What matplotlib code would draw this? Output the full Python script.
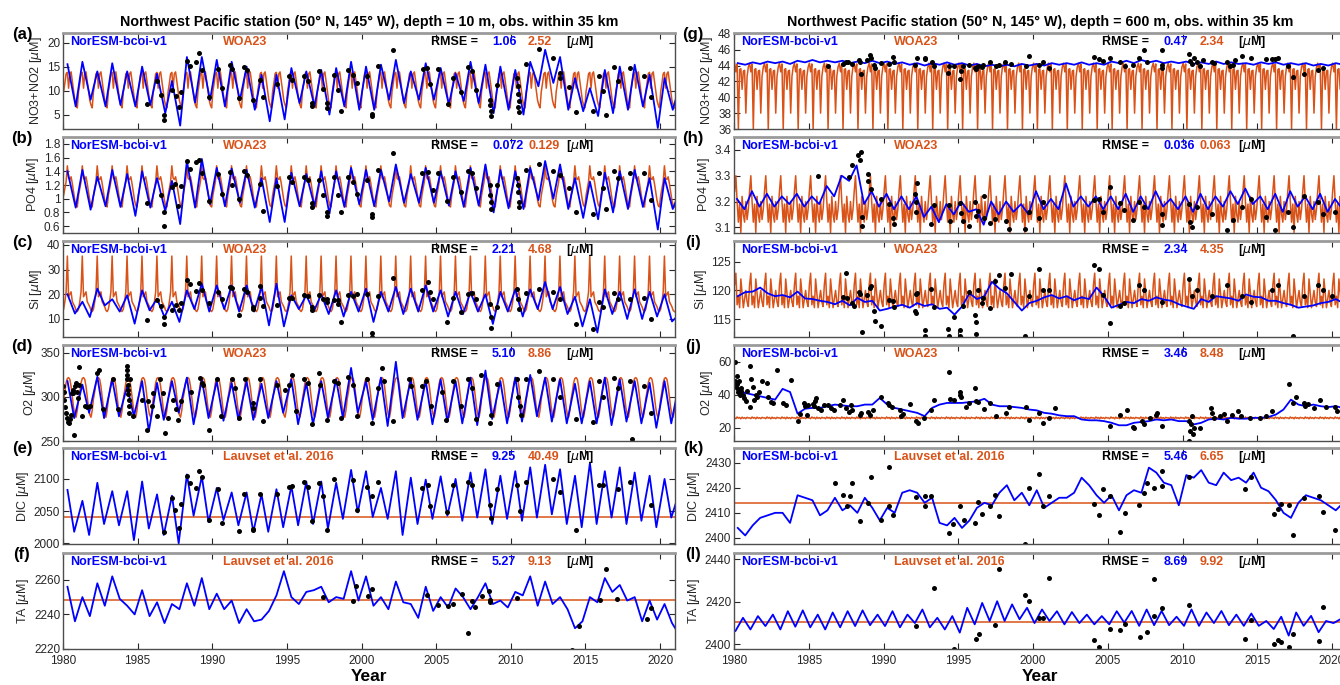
import numpy as np
import matplotlib.pyplot as plt
from matplotlib.ticker import FormatStrFormatter

plt.rcParams['font.family'] = ['Liberation Sans', 'DejaVu Sans']
plt.rcParams['mathtext.fontset'] = 'dejavusans'

BLUE = '#0000ff'
ORANGE = '#d95319'

# ---------------- model (NorESM) : two samples per year, 1980..2021 ----------------
# left column, 10 m
a_hi = [15.5,16,14,15.7,14,15,13.5,12,17,17,16.4,16,15,13.3,13.3,14.7,14,14.3,14.7,16,15,15.4,16.4,14,15.7,14.7,13.6,16,15.4,15,14.3,16,18.5,17,12.6,10.5,14.3,15,15.4,13.3,12.6,10.9]
a_lo = [6.7,8.1,6.7,7,6.7,7,5.3,2.7,7.5,8,6.7,8,6,3.6,4,7.4,6.7,5,6.7,6,6,8.1,7.4,8.1,8.1,7.1,7.8,7.4,5.3,6,5,10.9,11.6,6,5.7,4.7,5.3,6,6.7,2.2,6]
b_hi = [1.40,1.42,1.32,1.42,1.36,1.40,1.30,1.26,1.55,1.58,1.45,1.44,1.42,1.30,1.30,1.38,1.36,1.40,1.40,1.45,1.42,1.42,1.50,1.36,1.45,1.40,
        1.40,1.45,1.50,1.42,1.40,1.45,1.55,1.50,1.30,1.25,1.38,1.40,1.42,1.30,1.30,1.10]
b_lo = [0.87,0.84,0.89,0.88,0.75,0.87,0.82,0.63,0.87,0.92,0.89,0.94,0.87,0.66,0.66,0.89,0.89,0.78,0.88,0.92,0.89,0.96,0.94,0.94,0.94,0.90,
        0.88,0.90,0.80,0.86,0.85,0.98,1.00,0.85,0.72,0.70,0.80,0.85,0.88,0.55,0.85]
c_hi = [20,17,22.3,18,19.6,21.6,18.2,17,21.6,24.3,23.6,23.6,23.6,23,24.3,19.6,19.6,20,21.6,21,22.3,21,23,22.3,23.6,21.6,
        21,21,20,21,22,22,25,23,19,18,22,21,22,21,20,12]
c_lo = [12.2,10.8,15.5,13,8.1,13.5,10.8,8.8,14,13,14,13,13,7.4,7,14,13,12,11,13,8.8,13,12,13,13,11,
        12,13,8,13,11,14,14,12,7,4.5,12,10,10,11,9]
d_hi = [318,314,323,320,312,318,316,318,322,320,318,316,318,315,318,320,316,318,320,333,318,322,340,320,318,320,318,322,330,318,322,325,322,320,315,318,322,320,318,316,318,318]
d_lo = [276,282,276,278,278,261,274,282,269,276,273,274,274,276,282,269,269,276,276,282,274,267,276,274,269,272,270,268,275,270,272,278,272,270,270,270,268,272,270,265,270]
e_hi = [2083,2066,2094,2081,2081,2096,2076,2074,2107,2104,2086,2079,2079,2076,2084,2089,2096,2096,2094,2114,2112,2086,2112,2102,2099,2104,
        2100,2110,2115,2105,2112,2118,2122,2115,2105,2125,2112,2118,2110,2105,2100,2080]
e_lo = [2018,2013,2030,2028,2005,2023,2013,2000,2043,2033,2036,2028,2018,2018,2025,2028,2030,2023,2038,2048,2041,2038,2013,2030,2038,2043,
        2035,2040,2030,2038,2035,2040,2045,2030,2025,2030,2040,2030,2035,2025,2040]
f_hi = [2256,2250,2258,2262,2245,2254,2247,2246,2258,2261,2252,2248,2243,2237,2251,2250,2253,2256,2250,2265,2262,2250,2259,2246,2256,2250,
        2255,2243,2258,2248,2253,2262,2259,2250,2232,2250,2261,2257,2250,2248,2246,2228]
f_lo = [2236,2239,2245,2249,2240,2239,2235,2243,2245,2243,2243,2235,2236,2242,2265,2246,2254,2247,2249,2248,2245,2243,2247,2238,2242,2244,
        2250,2250,2246,2244,2251,2245,2246,2243,2236,2247,2253,2248,2236,2237,2235]

# right column, 600 m
g_hi = [44.3,44.4,44.5,44.5,44.6,44.7,44.6,44.6,44.5,44.6,44.5,44.4,44.3,44.3,44.4,44.3,44.2,44.1,44.1,44.2,44.2,44.3,44.3,44.4,44.3,44.5,
        44.6,44.7,44.6,44.5,44.5,44.4,44.5,44.4,44.3,44.4,44.4,44.3,44.3,44.2,44.3,44.3]
g_lo = [44.1,44.2,44.3,44.2,44.4,44.4,44.4,44.3,44.3,44.3,44.2,44.1,44.0,44.1,44.1,44.0,43.9,43.9,43.9,44.0,44.0,44.1,44.1,44.1,44.1,44.3,
        44.3,44.4,44.3,44.3,44.2,44.2,44.2,44.2,44.1,44.2,44.1,44.1,44.0,44.0,44.1]
h_hi = [3.21,3.24,3.23,3.22,3.23,3.22,3.26,3.30,3.34,3.24,3.23,3.22,3.22,3.18,3.19,3.20,3.17,3.20,3.20,3.19,3.24,3.21,3.27,3.22,3.22,3.22,
        3.23,3.22,3.24,3.21,3.22,3.23,3.22,3.24,3.25,3.22,3.23,3.24,3.22,3.23,3.21,3.20]
h_lo = [3.17,3.18,3.18,3.19,3.18,3.19,3.22,3.28,3.19,3.18,3.17,3.17,3.14,3.12,3.15,3.16,3.11,3.15,3.16,3.15,3.17,3.17,3.18,3.18,3.17,3.17,
        3.16,3.17,3.18,3.17,3.16,3.17,3.18,3.19,3.19,3.17,3.16,3.18,3.17,3.16,3.17]
i_hi = [119,119.8,119.5,119.2,119.8,118.5,118,118.2,118.7,118.2,116.8,117.5,117.8,117.6,117,117.2,118.5,121.5,119.5,116.5,118.2,119.2,119,118.8,120.5,117,
        118,118.5,118.8,118.2,117.2,118.5,119,118.6,119.3,118.8,118.2,117.5,117.2,117.8,118.5,118.5]
i_lo = [119.7,120.5,119,118.8,118.6,118.2,117.6,117.4,118,116.5,117.2,117,117.3,116.8,115.8,119.5,119,120.3,118,117.8,118.8,118.6,118.3,118.5,119,117.5,
        117.8,118.2,118.4,117.6,116.8,118,118.8,118.2,118.9,118.2,117.8,117,117.4,118,117.8]
j_hi = [43,40,38,43.5,28.5,32,33,33.5,33,34,34,31,29,32,35,35,36,34,33,32,30.5,28.5,27,25,24.5,23,21.5,23.5,25,25,24,23,25.5,26,25.5,26,28,37,33,33,33,30]
j_lo = [41,39,37,41.6,31.5,32,34,33,34,38,32,30,27,34,35,35.5,37.5,33,32.5,31,29,27.5,27,24.5,24,21.5,23,24,24.5,24,22,25,25,25.5,26,26.5,31,34,34,32.5,32]
k_hi = [2404,2405,2409,2410,2417,2415,2411,2411,2410,2412,2412,2418,2418,2416,2405,2404,2412,2413,2421,2418,2419,2414,2416,2424,2417,2417,
        2417,2418,2426,2421,2425,2427,2421,2423,2422,2420,2415,2408,2417,2415,2411,2413]
k_lo = [2401,2408,2410,2406,2416,2409,2416,2413,2416,2407,2410,2419,2414,2406,2408,2407,2414,2418,2415,2413,2412,2416,2418,2421,2414,2411,
        2419,2428,2422,2413,2424,2422,2426,2424,2426,2418.6,2410,2414,2416,2413,2414]
l_lo = [2406.3,2407,2408.6,2407,2408.3,2408,2407,2408,2408.6,2409,2408.6,2408,2410,2408,2407,2405.5,2409.4,2411,2411,2411.8,2410,2411,2409.4,2410,2409.4,2409.4,
        2410.2,2408.7,2409,2409,2408.7,2408.7,2410,2409,2408.7,2408.7,2407.2,2404.1,2408.7,2405.7,2410,2411]
l_hi = [2412.5,2413.3,2414,2415.6,2416,2414,2415,2415.6,2416,2414,2415.6,2414,2416.4,2412.5,2413.3,2417.2,2419.5,2420.3,2418.8,2417.2,2416.4,2415.6,2415.2,2414,2413.3,2415.6,
        2415.7,2416.4,2415.7,2413,2416.4,2415,2415.7,2414,2414.5,2411,2413,2415,2413.4,2411,2412]

# ---------------- WOA23 monthly climatology (Jan..Dec) ----------------
a_woa = [9.8,11.5,13.5,13.8,10.5,13.5,13.9,12.0,10.0,8.0,7.0,6.4]
b_woa = [1.05,1.15,1.25,1.48,1.30,1.28,1.32,1.22,1.10,0.98,0.90,0.88]
c_woa = [14,17,21,35.5,19,20,21,17,16,15,13.5,13]
d_woa = [298,306,316,321,322,320,312,300,288,280,277,285]
g_woa = [44.3,43.2,44.2,36.0,43.5,43.6,41.0,43.3,43.4,38.0,42.6,43.8]
h_woa = [3.24,3.30,3.20,3.12,3.19,3.08,3.22,3.15,3.12,3.20,3.13,3.17]
i_woa = [121,123,117.5,119,117,122,119.5,117,118.5,120,118,117.2]
j_woa = [26,25.5,26.5,25.8,26.2,25.4,26.4,25.7,26.1,25.5,26.3,25.9]

# Lauvset et al. 2016 (single value)
e_ref = 2040.5
f_ref = 2248.5
k_ref = 2414.0
l_ref = 2410.5

# ---------------- observations within 35 km ----------------
a_obs_t = [1985.66,1986.27,1986.56,1986.78,1986.78,1987.27,1987.54,1987.76,1987.9,1988.34,1988.5,1988.94,1989.12,1989.32,1989.77,1990.39,1990.66,
           1991.17,1991.33,1991.8,1992.13,1992.3,1992.74,1993.2,1993.4,1994.36,1995.14,1995.36,1996.14,1996.4,1996.65,1996.65,1997.17,1997.41,
           1997.7,1997.7,1998.15,1998.44,1998.64,1999.08,1999.42,1999.71,2000.38,2000.69,2000.69,2001.09,2002.09,2004.1,2004.4,2004.62,2005.15,
           2005.78,2006.12,2006.67,2007.12,2007.41,2007.64,2008.6,2008.62,2008.65,2008.68,2009.08,2010.4,2010.45,2010.5,2010.55,2010.5,2010.55,
           2011.0,2011.9,2012.8,2013.3,2013.3,2013.9,2014.4,2015.5,2015.9,2016.2,2016.4,2016.9,2017.2,2018.0,2018.9,2019.4]
a_obs_v = [7.3,12.1,9.1,5.0,3.8,10.2,8.8,6.6,9.8,16.2,15.2,15.9,17.8,14.2,8.6,14.5,10.5,
           15.4,14.5,8.5,15,14.3,8.1,12.3,8.7,11.4,13,12.3,13.1,12.1,6.7,7.4,14,10.3,
           7.4,6.4,13.3,10.2,5.7,14.3,13.3,11.6,13.1,5.2,4.8,15.2,18.5,14.5,14.7,11.4,14.5,
           7.3,12.7,9.8,15,14,10.2,8.1,6.9,5.8,4.8,11.2,12.7,11,9.3,7.9,6.6,5.5,
           15.5,18.6,16.8,13.6,12.6,10.7,5.6,5.7,13.1,10,5.0,14.9,12.1,14.8,13.1,8.7]
b_obs_t = [1985.66,1986.55,1986.78,1986.78,1987.27,1987.5,1987.7,1987.9,1988.34,1988.5,1988.94,1989.12,1989.32,1989.77,1990.39,1990.66,1991.17,
           1991.33,1991.8,1992.13,1992.3,1993.2,1993.4,1994.36,1995.14,1995.36,1996.14,1996.4,1996.65,1996.65,1997.17,1997.41,1997.7,1997.7,
           1998.15,1998.44,1998.64,1999.08,1999.42,1999.71,2000.38,2000.69,2000.69,2001.09,2002.09,2004.05,2004.43,2004.77,2005.15,2005.73,
           2006.12,2006.67,2007.12,2007.41,2007.64,2008.6,2008.62,2008.65,2008.68,2009.08,2010.4,2010.45,2010.5,2010.55,2010.55,2011.0,2011.9,
           2012.8,2013.3,2013.9,2014.4,2015.5,2015.9,2016.2,2016.4,2016.9,2017.2,2018.0,2018.9,2019.4]
b_obs_v = [0.94,1.06,0.80,0.60,1.17,1.21,0.89,1.18,1.55,1.43,1.53,1.56,1.38,0.96,1.36,1.07,1.39,
           1.20,1.00,1.41,1.34,1.22,0.82,1.19,1.32,1.25,1.32,1.27,0.94,0.88,1.27,1.06,0.80,0.75,
           1.32,1.06,0.80,1.32,1.25,1.07,1.27,0.77,0.74,1.42,1.66,1.37,1.39,1.13,1.38,0.96,
           1.32,1.10,1.40,1.38,1.15,1.20,1.05,0.95,0.85,1.20,1.30,1.20,1.10,0.95,0.88,1.42,1.50,
           1.40,1.35,1.15,0.80,0.78,1.38,1.15,0.85,1.40,1.30,1.38,1.38,0.98]
c_obs_t = [1985.66,1986.27,1986.55,1986.78,1986.78,1987.27,1987.54,1987.76,1987.9,1988.34,1988.5,1988.94,1989.12,1989.32,1989.77,1990.4,1990.66,
           1991.17,1991.33,1991.8,1992.13,1992.3,1992.74,1992.74,1993.2,1993.22,1993.4,1994.36,1995.14,1995.36,1996.14,1996.4,1996.65,1996.65,
           1997.17,1997.41,1997.7,1997.7,1998.15,1998.44,1998.44,1998.64,1999.08,1999.42,1999.71,2000.38,2000.69,2000.69,2001.09,2002.09,
           2004.05,2004.43,2004.6,2004.77,2005.73,2006.12,2006.67,2007.12,2007.41,2007.64,2008.6,2008.65,2008.7,2009.08,2010.4,2010.5,2010.55,
           2011.0,2011.9,2012.8,2013.3,2014.4,2015.5,2015.9,2016.2,2016.9,2017.2,2018.0,2018.9,2019.4]
c_obs_v = [9.5,17.8,15.1,10.8,8.1,13.8,15.5,13.5,16.5,25.7,24,21.4,24.6,21.6,16.5,21,18.2,
           23,22.7,11.5,22.3,21,14.9,14,23.2,18.6,15.3,15.5,18.6,18.6,19.6,19.2,14.9,13.8,
           19.6,18.2,18.2,16.9,17.6,17.6,16.2,8.8,19.6,19.2,20.3,20.3,4.3,2.7,19.3,26.8,
           21.9,25,21,18.2,8.8,18.5,13,20,20.5,18,16,11,6.5,15,22,18,14,
           20.5,22,21,18,8,6,17,15,20.5,18,18,18.5,10]
d_obs_t = [1980.0,1980.04,1980.1,1980.15,1980.2,1980.26,1980.33,1980.4,1980.45,1980.52,1980.58,1980.65,1980.7,1980.74,1980.78,1980.85,1980.92,
           1980.98,1981.05,1981.1,1981.3,1981.45,1981.6,1981.8,1982.25,1982.4,1982.7,1983.37,1983.7,1984.26,1984.28,1984.3,1984.32,1984.34,
           1984.36,1984.38,1984.4,1984.42,1984.45,1984.52,1984.7,1985.26,1985.6,1985.7,1985.93,1986.05,1986.27,1986.5,1986.7,1986.8,1987.05,
           1987.4,1987.6,1987.7,1987.9,1988.6,1989.16,1989.3,1989.4,1989.8,1990.3,1990.6,1991.3,1991.5,1991.8,1992.2,1992.7,1992.74,1993.2,
           1993.4,1994.36,1994.85,1995.14,1995.36,1995.6,1996.14,1996.4,1996.65,1997.15,1997.2,1997.7,1998.15,1998.44,1998.64,1999.08,1999.42,
           1999.71,2000.38,2000.69,2001.09,2001.4,2001.5,2002.09,2003.2,2003.3,2004.05,2004.3,2004.66,2005.4,2005.66,2006.12,2006.67,2007.12,
           2007.41,2007.7,2008.0,2008.6,2008.7,2009.08,2010.4,2010.5,2010.6,2010.7,2011.0,2011.9,2012.8,2013.3,2014.4,2015.5,2015.9,2016.2,
           2016.9,2017.2,2018.0,2018.1,2018.9,2019.4]
d_obs_v = [312,306,297,289,282,276,272,271,275,280,304,308,304,257,312,316,306,
           299,314,334,278,290,289,290,327,331,286,320,286,335,331,325,320,314,
           308,303,297,290,282,320,278,297,263,295,290,304,278,320,304,259,276,
           297,286,274,295,306,321,316,314,263,320,278,320,310,276,320,293,288,320,
           273,314,308,314,325,284,320,316,269,327,314,274,318,316,276,323,314,
           278,320,271,310,333,318,273,320,312,312,318,290,306,274,318,290,320,
           310,275,325,270,280,315,320,300,290,280,320,330,320,300,275,272,318,300,
           322,310,318,252,312,282]
e_obs_t = [1986.78,1987.27,1987.5,1987.76,1987.9,1988.34,1988.5,1988.94,1989.12,1989.32,1989.77,1990.4,1990.66,1991.8,1992.13,1992.74,1992.76,
           1993.2,1994.36,1995.14,1995.36,1996.14,1996.4,1996.65,1997.17,1997.41,1997.7,1998.15,1999.42,1999.71,2000.38,2000.69,2001.09,2004.05,
           2004.43,2004.6,2005.73,2006.12,2007.12,2007.41,2008.6,2008.65,2009.08,2010.4,2010.6,2011.0,2012.8,2013.3,2014.4,2015.9,2016.2,
           2017.2,2018.0,2019.4]
e_obs_v = [2017,2070,2051,2024,2061,2105,2094,2086,2113,2103,2037,2084,2032,2019,2076,2023,2020,
           2076,2076,2088,2089,2095,2088,2034,2094,2073,2020,2100,2098,2052,2088,2073,2096,2086,
           2091,2058,2048,2090,2095,2090,2060,2040,2085,2090,2050,2095,2100,2080,2020,2090,2090,
           2085,2095,2060]
f_obs_t = [1997.4,1999.42,1999.64,2000.4,2000.7,2004.4,2005.1,2005.8,2006.1,2006.7,2007.1,2007.4,2007.6,2008.07,2008.56,2008.6,2008.62,
           2010.4,2014.1,2014.6,2016.0,2016.4,2017.1,2019.1,2019.4]
f_obs_v = [2250,2248,2256.5,2250.8,2254.8,2251.3,2245.6,2244.6,2246,2251.7,2229,2248,2244.2,2250.4,2253.8,2248.5,2246.9,
           2249.4,2219.6,2233.5,2248.5,2266,2248.8,2237.5,2243.7]
g_obs_t = [1986.3,1987.27,1987.5,1987.6,1987.9,1988.36,1988.4,1988.5,1988.9,1989.1,1989.15,1989.35,1989.4,1989.85,1990.4,1990.66,1990.7,
           1992.1,1992.26,1992.78,1992.8,1993.27,1993.4,1994.34,1994.36,1994.7,1995.1,1995.2,1995.3,1995.7,1996.1,1996.2,1996.35,1996.6,1996.65,
           1997.1,1997.5,1997.7,1998.1,1998.5,1999.5,1999.7,2000.4,2000.7,2001.1,2004.1,2004.4,2004.7,2005.15,2005.8,2006.15,2006.7,2007.1,
           2007.4,2007.6,2008.6,2008.62,2008.65,2010.4,2010.5,2010.6,2010.8,2011.0,2011.2,2011.4,2012.0,2012.1,2013.0,2013.2,2013.4,2013.5,
           2014.0,2014.6,2015.6,2016.0,2016.2,2016.4,2017.05,2017.4,2018.1,2019.05,2019.4]
g_obs_v = [43.9,44.2,44.5,44.4,44.2,44.7,44.5,42.9,44.7,45.3,44.9,44.1,43.7,44.3,44.2,45.1,44.4,
           44.1,44.9,45.0,44.8,44.4,43.9,43.1,43.9,43.9,42.3,43.3,43.9,44.1,43.7,43.6,43.9,43.8,44.1,
           44.5,44.0,44.1,44.4,44.2,44.0,45.2,44.1,44.5,43.7,45.1,44.8,44.6,44.9,44.4,43.9,44.1,44.9,
           45.9,44.4,46.0,44.1,43.7,45.5,44.6,44.2,44.9,44.4,44.0,44.7,44.5,44.3,44.4,43.9,44.1,44.7,
           45.2,45.0,44.8,44.8,44.8,45.0,43.9,42.5,42.9,43.4,43.7]
h_obs_t = [1985.64,1987.7,1987.9,1988.3,1988.43,1988.5,1988.54,1988.56,1988.94,1988.96,1989.16,1989.8,1990.4,1990.66,1990.68,1992.1,1992.15,
           1992.2,1992.26,1993.2,1993.4,1994.4,1994.42,1995.1,1995.2,1995.34,1995.7,1996.1,1996.2,1996.35,1996.7,1996.72,1997.1,1997.46,1998.2,
           1998.4,1999.46,1999.7,2000.4,2000.7,2004.1,2004.4,2004.65,2005.15,2005.8,2006.1,2006.7,2007.1,2007.4,2008.6,2008.65,2010.4,2010.5,
           2010.6,2011.0,2012.0,2013.0,2013.4,2014.0,2014.6,2015.6,2016.2,2017.05,2017.4,2018.1,2019.05,2019.4,2020.2]
h_obs_v = [3.30,3.295,3.34,3.38,3.36,3.39,3.14,3.104,3.308,3.28,3.25,3.21,3.19,3.135,3.113,3.23,3.20,
           3.16,3.27,3.113,3.186,3.186,3.126,3.194,3.155,3.126,3.104,3.20,3.145,3.164,3.135,3.22,3.116,3.133,3.126,
           3.094,3.094,3.158,3.135,3.20,3.206,3.21,3.158,3.257,3.194,3.167,3.13,3.20,3.18,3.15,3.11,3.19,3.12,
           3.10,3.18,3.15,3.09,3.13,3.18,3.21,3.14,3.09,3.16,3.10,3.22,3.20,3.15,3.16]
i_obs_t = [1987.27,1987.5,1987.55,1987.9,1988.0,1988.36,1988.4,1988.54,1988.9,1989.1,1989.15,1989.35,1989.4,1989.83,1990.4,1990.66,1990.7,
           1992.1,1992.15,1992.2,1992.26,1992.78,1992.8,1993.2,1993.4,1994.34,1994.36,1994.7,1995.1,1995.12,1995.15,1995.34,1995.7,1996.1,
           1996.16,1996.18,1996.35,1996.6,1996.65,1997.1,1997.46,1997.7,1998.1,1998.5,1999.46,1999.7,2000.4,2000.7,2001.1,2004.1,2004.4,
           2004.65,2005.15,2005.8,2006.1,2007.1,2007.4,2008.6,2010.4,2010.6,2011.0,2012.0,2013.0,2014.0,2014.6,2016.0,2016.4,2017.4,2018.1,
           2019.05,2019.4,2020.0]
i_obs_v = [118.8,123.1,118.7,117.8,117.3,119.7,119.3,112.8,119.2,120.4,120.7,116.4,114.7,113.9,118.3,118.2,117.1,
           116.5,116.1,119.4,119.6,113.2,112.0,120.2,117.1,113.3,112.0,115.3,113.2,112.0,111.7,117.3,119.8,115.8,
           114.5,112.4,120.0,117.9,118.7,117.0,121.7,122.7,120.4,122.8,112.0,119.1,123.7,120.0,120.0,124.5,123.7,
           119.2,114.3,117.3,117.9,121,120,118,122,119,120,119,121,119,118,120,121,112,119,
           121,120,119]
j_obs_t = [1980.07,1980.07,1980.1,1980.15,1980.18,1980.22,1980.26,1980.3,1980.34,1980.38,1980.45,1980.5,1980.6,1980.7,1980.8,1980.9,1981.06,
           1981.1,1981.15,1981.25,1981.35,1981.45,1981.55,1981.7,1981.9,1982.2,1982.3,1982.5,1982.6,1982.9,1983.3,1983.5,1983.8,1984.3,
           1984.4,1984.65,1984.75,1984.85,1984.95,1985.3,1985.35,1985.4,1985.5,1985.6,1985.8,1986.0,1986.3,1986.5,1986.7,1987.1,1987.3,
           1987.5,1987.7,1987.8,1987.9,1988.4,1988.5,1988.98,1989.1,1989.3,1989.8,1990.3,1990.4,1990.6,1991.1,1991.2,1991.3,1991.8,1992.2,
           1992.3,1992.7,1993.2,1993.4,1994.4,1994.42,1994.7,1995.1,1995.12,1995.2,1995.5,1995.7,1996.1,1996.2,1996.3,1996.7,1997.1,1997.5,
           1998.2,1998.4,1999.5,1999.7,2000.4,2000.7,2001.1,2001.5,2005.15,2005.8,2006.3,2006.7,2006.75,2007.3,2007.4,2007.8,2008.2,2008.3,
           2008.6,2010.4,2010.45,2010.5,2010.55,2010.6,2010.7,2010.8,2011.2,2011.9,2012.0,2012.1,2012.5,2012.8,2013.0,2013.3,2013.7,2013.9,
           2014.5,2015.2,2015.6,2016.0,2017.1,2017.4,2017.6,2018.1,2018.2,2018.4,2018.8,2019.2,2019.6,2020.2,2020.3]
j_obs_v = [60,48.4,45.5,44.5,51.4,46.5,41.6,43.5,48,39.6,44,42,40,38,36,42,32.7,
           57.3,49.4,44.5,36.7,40,38.6,41.6,48.4,46.9,38.6,35.7,35,54.9,34.7,33.5,49,24,
           28.2,34.7,33,28,34,34.1,33,36.3,37.7,32,31,33.5,34,32,31,33.7,36.7,
           32,29.8,34,31,27.8,29,29.8,28,30.8,38.6,35.1,34,32.7,30.8,26.9,28.5,34.1,24,
           22.9,25.9,30.8,36.7,53.9,37.6,36.7,41.6,39.6,38.5,32.7,34.7,43.9,36.3,35.5,31.2,35.1,26.9,
           28.8,32.7,32.7,24.9,28.8,23,25.9,31.8,21,27.8,30.8,20.2,20,23.9,22.5,26,27.8,29,
           21,24,12,18,22,27,16,20,20,31.9,29,26,27,28.5,24,28,30,27,
           26,26,27,30.4,46.5,34.9,38.4,35.1,33,34.5,32,36.6,32.7,32.7,30]
k_obs_t = [1986.75,1987.27,1987.54,1987.76,1987.87,1988.43,1988.94,1989.14,1989.81,1990.39,1990.4,1990.66,1992.17,1992.78,1992.8,1993.2,1993.45,
           1994.4,1994.67,1995.1,1995.4,1996.1,1996.35,1996.6,1997.1,1997.45,1997.7,1999.46,1999.7,2000.4,2000.7,2001.1,2004.1,2004.4,2004.65,
           2005.15,2005.8,2006.15,2007.1,2007.4,2007.6,2008.1,2008.6,2008.62,2010.4,2014.2,2014.6,2016.1,2016.4,2016.6,2017.1,2017.4,2018.1,
           2019.1,2019.4,2020.2]
k_obs_v = [2422,2417.2,2412.9,2416.6,2422,2406.7,2413.9,2424.4,2407,2428.4,2412.6,2409.1,2416.2,2412.9,2416.8,2416.8,2397,
           2401.9,2405.7,2412.6,2407,2406,2414.2,2409.7,2412.6,2417.2,2408.7,2397.5,2419.8,2425.5,2412.6,2416.6,2413.7,2409.3,2419.4,
           2416.6,2402.2,2410,2413,2417.8,2422,2420,2426.5,2420.5,2424.4,2419.5,2424.4,2409.4,2411.4,2413.5,2413,2401.2,2416,
           2416.8,2410.2,2403]
l_obs_t = [1992.15,1993.4,1994.7,1996.17,1996.4,1997.45,1997.7,1999.47,1999.7,2000.4,2000.7,2001.1,2004.1,2004.4,2005.15,2005.8,2006.15,
           2007.15,2007.6,2008.1,2008.12,2008.6,2010.4,2014.2,2014.6,2016.1,2016.4,2016.6,2017.1,2017.4,2019.1,2019.4]
l_obs_v = [2408.6,2426.6,2398,2402.7,2404.7,2408.9,2435.6,2423.4,2420.3,2412.5,2412.5,2431.2,2401.9,2398.9,2407,2406.7,2409.5,
           2403.4,2406,2430.6,2413.5,2417.2,2418.3,2402.6,2411.5,2400.3,2402,2401,2398.8,2404.9,2401.4,2417.7]

rmse = {'a': ('1.06', '2.52'), 'b': ('0.072', '0.129'), 'c': ('2.21', '4.68'),
        'd': ('5.10', '8.86'), 'e': ('9.25', '40.49'), 'f': ('5.27', '9.13'),
        'g': ('0.47', '2.34'), 'h': ('0.036', '0.063'), 'i': ('2.34', '4.35'),
        'j': ('3.46', '8.48'), 'k': ('5.46', '6.65'), 'l': ('8.69', '9.92')}


def model_curve(hi, lo, p_hi, p_lo):
    t, v = [], []
    for n in range(len(hi)):
        t.append(1980 + n + p_hi)
        v.append(hi[n])
        if n < len(lo):
            t.append(1980 + n + p_lo)
            v.append(lo[n])
    return t, v


def woa_curve(clim):
    t = 1980 + (np.arange(12 * 41) + 0.5) / 12
    return t, np.tile(clim, 41)


# panel setup: letter, model, reference, obs, ylim, yticks, ylabel
panels = [
    ('a', (a_hi, a_lo, 0.3, 0.85), a_woa, (a_obs_t, a_obs_v), (2, 22), [5, 10, 15, 20], 'NO3+NO2'),
    ('b', (b_hi, b_lo, 0.3, 0.85), b_woa, (b_obs_t, b_obs_v), (0.5, 1.9), [0.6, 0.8, 1, 1.2, 1.4, 1.6, 1.8], 'PO4'),
    ('c', (c_hi, c_lo, 0.3, 0.8), c_woa, (c_obs_t, c_obs_v), (2.7, 41.6), [10, 20, 30, 40], 'Si'),
    ('d', (d_hi, d_lo, 0.3, 0.75), d_woa, (d_obs_t, d_obs_v), (250, 359), [250, 300, 350], 'O2'),
    ('e', (e_hi, e_lo, 0.3, 0.75), e_ref, (e_obs_t, e_obs_v), (1999, 2148), [2000, 2050, 2100], 'DIC'),
    ('f', (f_hi, f_lo, 0.3, 0.8), f_ref, (f_obs_t, f_obs_v), (2220, 2275.5), [2220, 2240, 2260], 'TA'),
    ('g', (g_hi, g_lo, 0.25, 0.75), g_woa, (g_obs_t, g_obs_v), (36, 48.1), [36, 38, 40, 42, 44, 46, 48], 'NO3+NO2'),
    ('h', (h_hi, h_lo, 0.2, 0.7), h_woa, (h_obs_t, h_obs_v), (3.078, 3.45), [3.1, 3.2, 3.3, 3.4], 'PO4'),
    ('i', (i_hi, i_lo, 0.25, 0.75), i_woa, (i_obs_t, i_obs_v), (111.9, 128.6), [115, 120, 125], 'Si'),
    ('j', (j_hi, j_lo, 0.25, 0.75), j_woa, (j_obs_t, j_obs_v), (12, 70), [20, 40, 60], 'O2'),
    ('k', (k_hi, k_lo, 0.25, 0.75), k_ref, (k_obs_t, k_obs_v), (2397.6, 2435.8), [2400, 2410, 2420, 2430], 'DIC'),
    ('l', (l_lo, l_hi, 0.1, 0.6), l_ref, (l_obs_t, l_obs_v), (2397.8, 2443), [2400, 2420, 2440], 'TA'),
]

W, H = 1340, 685
fig = plt.figure(figsize=(W / 100, H / 100), dpi=100)
tops = [33, 137, 241, 345, 448, 553]
ph = 96
col_x = [63, 734]
col_w = [612, 613]
titles = ['Northwest Pacific station (50° N, 145° W), depth = 10 m, obs. within 35 km',
          'Northwest Pacific station (50° N, 145° W), depth = 600 m, obs. within 35 km']

for idx, (letter, mod, ref, obs, ylim, yticks, yname) in enumerate(panels):
    col, row = divmod(idx, 6)
    ax = fig.add_axes([col_x[col] / W, 1 - (tops[row] + ph) / H, col_w[col] / W, ph / H])

    if isinstance(ref, list):
        wt, wv = woa_curve(ref)
        ax.plot(wt, wv, color=ORANGE, lw=1.1)
        refname = 'WOA23'
    else:
        ax.axhline(ref, color=ORANGE, lw=1.1)
        refname = 'Lauvset et al. 2016'
    mt, mv = model_curve(*mod)
    ax.plot(mt, mv, color=BLUE, lw=1.3)
    ax.plot(obs[0], obs[1], 'o', color='k', ms=3.6, mew=0)

    ax.set_xlim(1980, 2021)
    ax.set_ylim(*ylim)
    ax.set_yticks(yticks)
    ax.yaxis.set_major_formatter(FormatStrFormatter('%g'))
    ax.set_xticks(np.arange(1980, 2021, 5))
    ax.tick_params(direction='in', top=True, right=True, length=4, width=0.8,
                   labelsize=8.5, colors='#262626', pad=2)
    ax.tick_params(axis='x', pad=4.5)
    if row < 5:
        ax.set_xticklabels([])
    else:
        ax.set_xlabel('Year', fontsize=12.5, fontweight='bold', labelpad=1)
    for side in ['left', 'right', 'bottom']:
        ax.spines[side].set_color('#4d4d4d')
        ax.spines[side].set_linewidth(1.0)
    ax.spines['top'].set_color('#9a9a9a')
    ax.spines['top'].set_linewidth(2.0)

    ax.set_ylabel(yname + r' [$\mu$M]', fontsize=9, color='#262626', labelpad=2)

    ty = 0.905
    ax.text(0.012, ty, 'NorESM-bcoi-v1', transform=ax.transAxes, color=BLUE,
            fontsize=9, fontweight='bold', va='center')
    ax.text(0.261, ty, refname, transform=ax.transAxes, color=ORANGE,
            fontsize=9, fontweight='bold', va='center')
    ax.text(0.601, ty, 'RMSE =', transform=ax.transAxes, color='k',
            fontsize=9, fontweight='bold', va='center')
    ax.text(0.701, ty, rmse[letter][0], transform=ax.transAxes, color=BLUE,
            fontsize=9, fontweight='bold', va='center')
    ax.text(0.760, ty, rmse[letter][1], transform=ax.transAxes, color=ORANGE,
            fontsize=9, fontweight='bold', va='center')
    ax.text(0.822, ty, r'[$\mu$M]', transform=ax.transAxes, color='k',
            fontsize=9, fontweight='bold', va='center')

    fig.text((col_x[col] - 41) / W, 1 - (tops[row] + 1) / H, '(' + letter + ')',
             fontsize=12, fontweight='bold', ha='center', va='center')
    if row == 0:
        ax.set_title(titles[col], fontsize=10.3, fontweight='bold', pad=5)

fig.savefig('out.png', dpi=100)
